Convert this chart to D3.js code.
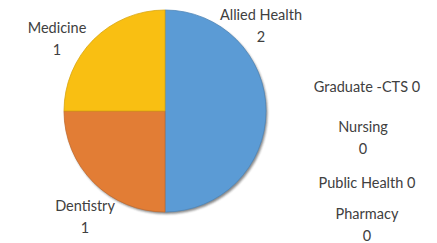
<!DOCTYPE html>
<html>
<head>
<meta charset="utf-8">
<script src="https://cdn.jsdelivr.net/npm/d3@7"></script>
<style>
  body { margin: 0; background: #fff; }
  text { font-family: Lato, "Open Sans", sans-serif; font-size: 14.5px; fill: #404040; }
</style>
</head>
<body>
<div id="chart"></div>
<script>
// Data
const categories = ["Allied Health", "Dentistry", "Medicine", "Graduate -CTS", "Nursing", "Public Health", "Pharmacy"]
const counts = [2, 1, 1, 0, 0, 0, 0]
const colors = ["#5b9bd5", "#e27d35", "#f9bf12", "#a5a5a5", "#4472c4", "#70ad47", "#255e91"]

// label layout: [x, y, two lines?]
const labelPos = [
  [261, 15, true], [85, 206, true], [57, 28, true],
  [367, 87, false], [363, 127, true], [367, 183, false], [367, 214, true]
]

const width = 437, height = 243
const cx = 165, cy = 111, r = 101

const svg = d3.select("#chart").append("svg")
    .attr("width", width)
    .attr("height", height)

const defs = svg.append("defs")
defs.append("filter").attr("id", "shadow")
    .attr("x", "-10%").attr("y", "-10%").attr("width", "120%").attr("height", "120%")
  .append("feGaussianBlur").attr("stdDeviation", 1.2)

const data = categories.map((c, i) => ({ name: c, value: counts[i], color: colors[i] }))

const pie = d3.pie().sort(null).value(d => d.value)
const arc = d3.arc().innerRadius(0).outerRadius(r)

const g = svg.append("g").attr("transform", `translate(${cx},${cy})`)

// soft shadow along lower right edge
g.append("circle")
    .attr("cx", 1.5).attr("cy", 2)
    .attr("r", r)
    .attr("fill", "#2b2b2b")
    .attr("opacity", 0.55)
    .attr("filter", "url(#shadow)")

g.selectAll("path.slice")
  .data(pie(data).filter(d => d.value > 0))
  .join("path")
    .attr("class", "slice")
    .attr("d", arc)
    .attr("fill", d => d.data.color)
    .attr("stroke", d => d3.color(d.data.color).darker(0.4))
    .attr("stroke-width", 0.8)

// Labels
const labels = svg.append("g")
data.forEach((d, i) => {
  const [x, y, twoLines] = labelPos[i]
  const t = labels.append("text")
      .attr("text-anchor", "middle")
      .attr("x", x)
      .attr("y", y)
      .attr("dy", "0.35em")
  if (twoLines) {
    t.append("tspan").attr("x", x).text(d.name)
    t.append("tspan").attr("x", x).attr("dy", 22).text(d.value)
  } else {
    t.text(d.name + " " + d.value)
  }
})
</script>
</body>
</html>
